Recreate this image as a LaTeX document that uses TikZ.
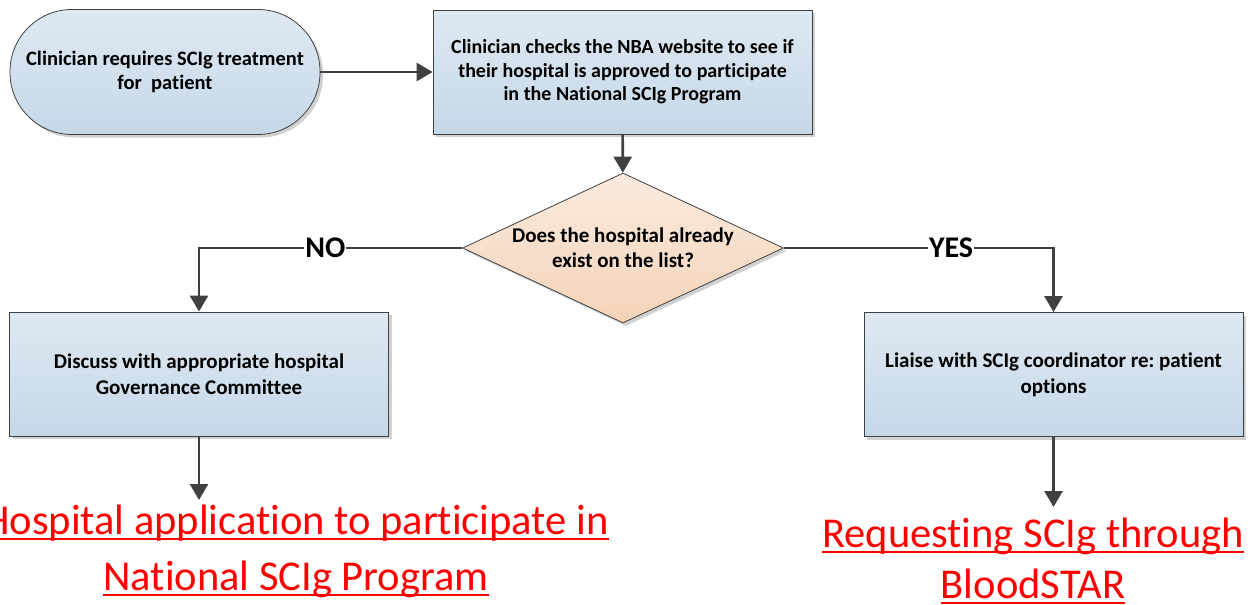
\documentclass[tikz,border=0pt]{standalone}
\usepackage{fontspec}
\setmainfont{Carlito}[Ligatures={NoCommon,NoContextual}]
\usetikzlibrary{positioning,shapes.geometric,shadows,arrows.meta}
\definecolor{boxtop}{HTML}{DFE9F3}
\definecolor{boxbot}{HTML}{C5D8E8}
\definecolor{dectop}{HTML}{FAEBDF}
\definecolor{decbot}{HTML}{F5D3B8}
\definecolor{edge}{HTML}{404040}
\definecolor{linkred}{HTML}{FF0000}
\newcommand{\linkline}[1]{{\setbox0\hbox{#1}\rlap{\rule[-5pt]{\wd0}{2pt}}\box0}}
\frenchspacing

\begin{document}
\begin{tikzpicture}[x=1pt,y=-1pt,
procbox/.style={draw=edge,line width=0.8pt,rectangle,top color=boxtop,bottom color=boxbot,
    minimum width=379pt,minimum height=124pt,align=center,
    font=\fontsize{21}{26}\selectfont\bfseries,
    drop shadow={shadow xshift=3pt,shadow yshift=-3pt,fill=black!40,opacity=.45}},
termbox/.style={procbox,minimum width=310pt,minimum height=125pt,rounded corners=62pt,
    font=\fontsize{20.5}{24}\selectfont\bfseries},
decision/.style={draw=edge,line width=0.8pt,diamond,top color=dectop,bottom color=decbot,
    minimum width=321pt,minimum height=150pt,inner sep=0pt,
    drop shadow={shadow xshift=3pt,shadow yshift=-3pt,fill=black!40,opacity=.45}},
dectext/.style={align=center,font=\fontsize{21}{25}\selectfont\bfseries},
flow/.style={draw=edge,line width=2.6pt,-{Triangle[length=16pt,width=18pt]}},
answer/.style={fill=white,inner xsep=1pt,inner ysep=0pt,font=\fontsize{30}{30}\selectfont\bfseries},
target/.style={align=center,text=linkred,inner xsep=0pt,font=\fontsize{42.5}{56}\selectfont}]
\useasboundingbox (0,0) rectangle (1259,605);
\clip (0,0) rectangle (1259,605);

\node (start) [termbox] at (165,72) {Clinician requires SCIg treatment\\for~ patient};
\node (website) [procbox,font=\fontsize{20}{23.5}\selectfont\bfseries] at (622.5,72)
    {Clinician checks the NBA website to see if\\their hospital is approved to participate\\in the National SCIg Program};
\node (exists) [decision] at (623,248) {};
\node (existstext) [dectext] at (exists.center) {Does the hospital already\\exist on the list?};
\node (committee) [procbox] at (199,374) {Discuss with appropriate hospital\\Governance Committee};
\node (coordinator) [procbox] at (1053.5,374.5) {Liaise with SCIg coordinator re: patient\\options};
\node (apply) [target,inner ysep=5pt,anchor=north] at (296,500)
    {\linkline{Hospital application to participate in}\\\linkline{National SCIg Program}};
\node (request) [target,inner ysep=11pt,anchor=north,font=\fontsize{42.5}{51}\selectfont] at (1033,507)
    {\linkline{Requesting SCIg through}\\\linkline{BloodSTAR}};

\draw [flow] (start) -- (website);
\draw [flow] (website) -- (exists);
\draw [flow] (exists.west) -| node (no) [answer,pos=.26] {NO} (committee.north);
\draw [flow] (exists.east) -| node (yes) [answer,pos=.31] {YES} (coordinator.north);
\draw [flow] (committee.south) -- (committee.south |- apply.north);
\draw [flow] (coordinator.south) -- (coordinator.south |- request.north);
\end{tikzpicture}
\end{document}
